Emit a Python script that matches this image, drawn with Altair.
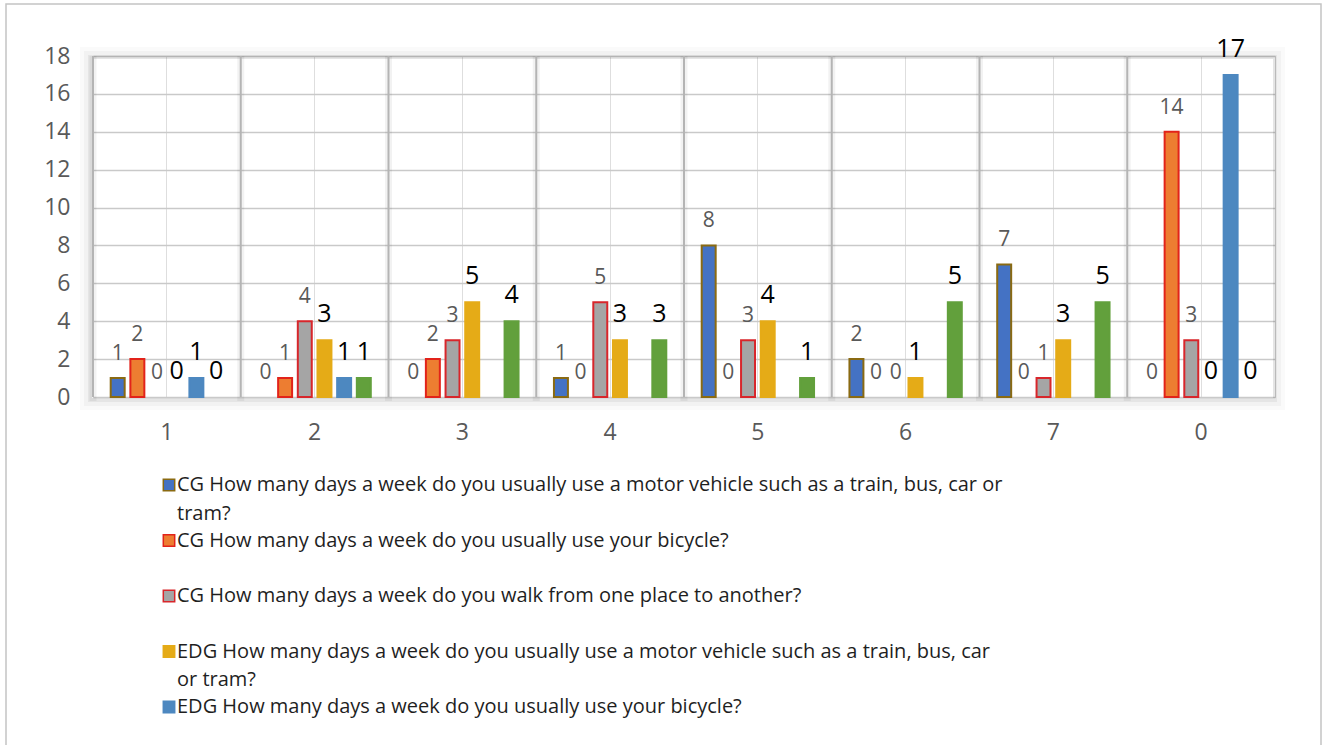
import altair as alt
import pandas as pd

# Categories: number of days per week
days = ["1", "2", "3", "4", "5", "6", "7", "0"]

series_keys = ["cg_motor", "cg_bicycle", "cg_walk", "edg_motor", "edg_bicycle", "edg_walk"]
series_groups = ["CG", "CG", "CG", "EDG", "EDG", "EDG"]

# Respondent counts per series (None = no answer recorded)
cg_motor = [1, 0, 0, 1, 8, 2, 7, 0]
cg_bicycle = [2, 1, 2, 0, 0, 0, 0, 14]
cg_walk = [0, 4, 3, 5, 3, 0, 1, 3]
edg_motor = [0, 3, 5, 3, 4, 1, 3, 0]
edg_bicycle = [1, 1, None, None, None, None, None, 17]
edg_walk = [0, 1, 4, 3, 1, 5, 5, 0]

fill_colors = ["#4472C4", "#ED7D31", "#A5A5A5", "#E5AB17", "#4D88C0", "#62A03C"]
stroke_colors = ["#8A6A12", "#E2231A", "#D8262B", "#E5AB17", "#4D88C0", "#62A03C"]

legend_lines = [
    ["CG How many days a week do you usually use a motor vehicle such as a train, bus, car or", "tram?"],
    ["CG How many days a week do you usually use your bicycle?"],
    ["CG How many days a week do you walk from one place to another?"],
    ["EDG How many days a week do you usually use a motor vehicle such as a train, bus, car", "or tram?"],
    ["EDG How many days a week do you usually use your bicycle?"],
]

FONT = "Open Sans"
W, H = 1182, 341

rows = []
for key, grp, vals in zip(series_keys, series_groups,
                          [cg_motor, cg_bicycle, cg_walk, edg_motor, edg_bicycle, edg_walk]):
    for d, v in zip(days, vals):
        if v is not None:
            rows.append({"day": d, "series": key, "group": grp, "value": v})
df = pd.DataFrame(rows)

leg_rows = []
for i, lines in enumerate(legend_lines):
    for j, line in enumerate(lines):
        leg_rows.append({"series": series_keys[i], "line": j, "text": line, "pos": i + 0.52 * j})
leg_df = pd.DataFrame(leg_rows)

x_scale = alt.Scale(domain=days, paddingInner=0, paddingOuter=0)
x_axis = alt.Axis(title=None, labelAngle=0, labelFontSize=23, labelColor="#595959",
                  labelPadding=24, ticks=False, domain=False, grid=True,
                  gridColor="#dedede", gridWidth=1, bandPosition=0.5, labelFont=FONT)
y_scale = alt.Scale(domain=[0, 18], nice=False)
y_axis = alt.Axis(title=None, values=list(range(0, 19, 2)), labelFontSize=23,
                  labelColor="#595959", labelPadding=23, ticks=False, domain=False,
                  gridColor="#c9c9c9", gridWidth=1.5, labelFont=FONT)

x_enc = alt.X("day:N", sort=days, scale=x_scale, axis=x_axis)
x_off = alt.XOffset("series:N", sort=series_keys,
                    scale=alt.Scale(domain=series_keys, paddingInner=0.29, paddingOuter=0.9))
y_enc = alt.Y("value:Q", scale=y_scale, axis=y_axis)
fill_enc = alt.Fill("series:N", scale=alt.Scale(domain=series_keys, range=fill_colors), legend=None)
stroke_enc = alt.Stroke("series:N", scale=alt.Scale(domain=series_keys, range=stroke_colors), legend=None)

one = pd.DataFrame({"k": [0]})

# outer frame of the whole figure
frame = alt.Chart(one).mark_rect(fillOpacity=0, stroke="#c4c4c4", strokeWidth=1.5).encode(
    x=alt.value(-87), x2=alt.value(1228), y=alt.value(-52), y2=alt.value(720)
)

# soft shadow around the plot area, weighted toward the lower left
shadows = []
for w, op in [(12, 0.02), (8, 0.03), (4, 0.05)]:
    shadows.append(
        alt.Chart(one).mark_rect(fillOpacity=0, stroke="#000000", strokeWidth=w, strokeOpacity=op).encode(
            x=alt.value(-w / 2 - 1), x2=alt.value(W + w / 2 - 2),
            y=alt.value(-w / 2 + 3), y2=alt.value(H + w / 2 + 1)
        )
    )

cat_df = pd.DataFrame({"day": days})
sep_x = alt.X("day:N", sort=days, scale=x_scale, axis=x_axis, bandPosition=0)
sep_shadow = alt.Chart(cat_df).mark_rule(color="#000000", strokeWidth=7, opacity=0.05).encode(
    x=sep_x, y=alt.value(0), y2=alt.value(H + 4)
)
sep = alt.Chart(cat_df).mark_rule(color="#b4b4b4", strokeWidth=2).encode(
    x=sep_x, y=alt.value(0), y2=alt.value(H)
)

bars = alt.Chart(df).mark_bar(strokeWidth=2).encode(
    x=x_enc, xOffset=x_off, y=y_enc, fill=fill_enc, stroke=stroke_enc
).transform_filter("datum.value > 0")

cg_labels = alt.Chart(df).mark_text(dy=-18, baseline="alphabetic", fontSize=21,
                                    color="#595959", font=FONT).encode(
    x=x_enc, xOffset=x_off, y=y_enc, text="value:Q"
).transform_filter("datum.group == 'CG'")

edg_labels = alt.Chart(df).mark_text(dy=-18, baseline="alphabetic", fontSize=25,
                                     color="#000000", font=FONT).encode(
    x=x_enc, xOffset=x_off, y=y_enc, text="value:Q"
).transform_filter("datum.group == 'EDG'")

main = alt.layer(frame, *shadows, sep_shadow, sep, bars, cg_labels, edg_labels)

leg_y = alt.Y("pos:Q", scale=alt.Scale(domain=[0, 4], range=[429, 651], nice=False, zero=False), axis=None)
leg_symbols = alt.Chart(leg_df).mark_square(size=130, strokeWidth=1.5, opacity=1).encode(
    x=alt.value(76), y=leg_y, fill=fill_enc, stroke=stroke_enc
).transform_filter("datum.line == 0")
leg_text = alt.Chart(leg_df).mark_text(align="left", baseline="middle", fontSize=20,
                                       font=FONT, color="#1f1f1f").encode(
    x=alt.value(84), y=leg_y, text="text:N"
)
legend = alt.layer(leg_symbols, leg_text)

chart = alt.layer(main, legend).resolve_scale(y="independent").properties(
    width=W, height=H,
    autosize=alt.AutoSizeParams(type="none"),
    padding={"left": 93, "top": 56, "right": 54, "bottom": 348},
    background="white",
).configure_view(stroke="#d0d0d0", strokeWidth=1)

chart.save("out.html", embed_options={"renderer": "svg", "actions": False})
